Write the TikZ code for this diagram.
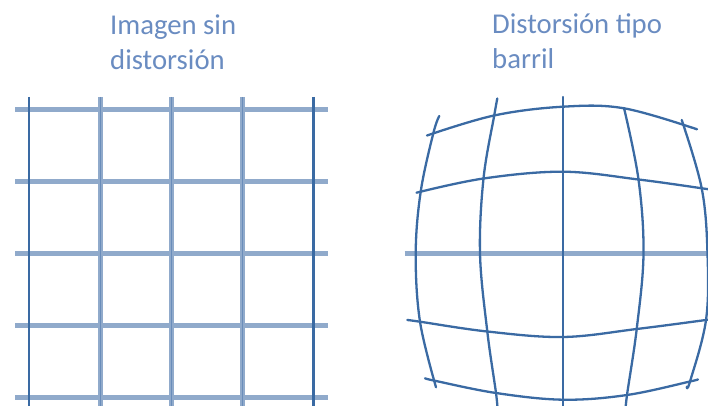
\documentclass[tikz,border=0pt]{standalone}
\usepackage{fontspec}
\setmainfont{Carlito}
\definecolor{txtblue}{HTML}{6A8CC1}
\definecolor{darkline}{HTML}{3A6AA3}
\definecolor{lightline}{HTML}{90AACB}
\definecolor{midline}{HTML}{6A8DBA}
\begin{document}
\begin{tikzpicture}[x=1pt,y=-1pt,
  lbl/.style={anchor=base west,inner sep=0pt,text=txtblue,font=\fontsize{28.7}{35}\selectfont},
  gridh/.style={draw=lightline,line width=5pt},
  gridvo/.style={draw=darkline,line width=2.6pt},
  gridvi/.style={draw=lightline,line width=5pt},
  gridvc/.style={draw=midline,line width=1.4pt},
  barrel/.style={draw=darkline,line width=2.3pt,line cap=round,line join=round},
  barrelh/.style={draw=lightline,line width=5pt}]
\useasboundingbox (0,0) rectangle (708,406);
% titles
\node[lbl] (t1a) at (110,35) {Imagen sin};
\node[lbl] (t1b) at (110,70) {distorsión};
\node[lbl] (t2a) at (492,33.5) {Distorsión tipo};
\node[lbl] (t2b) at (492,69) {barril};
% undistorted grid
\foreach \y in {110,181.7,253.7,325.7,397}
  \draw[gridh] (15,\y) -- (328,\y);
\foreach \x in {100.7,171.7,242.3} {
  \draw[gridvi] (\x,97) -- (\x,406);
  \draw[gridvc] (\x,97) -- (\x,406);
}
\foreach \x in {29,313.3}
  \draw[gridvo] (\x,97) -- (\x,406);
% barrel grid
\begin{scope}
\clip (0,0) rectangle (708,406);
\draw[barrelh] (404.7,253.7) -- (712,253.7);
\draw[barrel] plot[smooth,tension=0.6] coordinates {(427,135.5) (494,115.5) (563,106.7) (624,108.3) (697,129.3)};
\draw[barrel] plot[smooth,tension=0.6] coordinates {(416.5,192.7) (483.5,178.5) (563,171.7) (638.5,179.5) (702,188.3) (712,190)};
\draw[barrel] plot[smooth,tension=0.6] coordinates {(407.3,320) (420,321.7) (487.3,331.5) (563,337) (636.7,329) (706,320) (712,319.3)};
\draw[barrel] plot[smooth,tension=0.6] coordinates {(425,378.3) (436,381) (496,393) (563,399.7) (627,395) (690,381.5) (697,379.5)};
\draw[barrel] plot[smooth,tension=0.6] coordinates {(439.3,116) (433.3,133.3) (420.7,191.7) (415.7,253.7) (420,321.7) (436,387.3)};
\draw[barrel] plot[smooth,tension=0.6] coordinates {(497.3,98.5) (494.3,115) (483.5,178.5) (480,253.7) (487.3,331.5) (496,393) (497.5,410)};
\draw[barrel] (563.3,97) -- (563.3,410);
\draw[barrel] plot[smooth,tension=0.6] coordinates {(624,108) (638.5,179.5) (643.5,253.7) (636.7,329) (627,395) (625.7,410)};
\draw[barrel] plot[smooth,tension=0.6] coordinates {(681.7,120) (701.7,188.3) (707.5,253.7) (706,320) (690,381.5) (686.7,386.7)};
\end{scope}
\end{tikzpicture}
\end{document}
